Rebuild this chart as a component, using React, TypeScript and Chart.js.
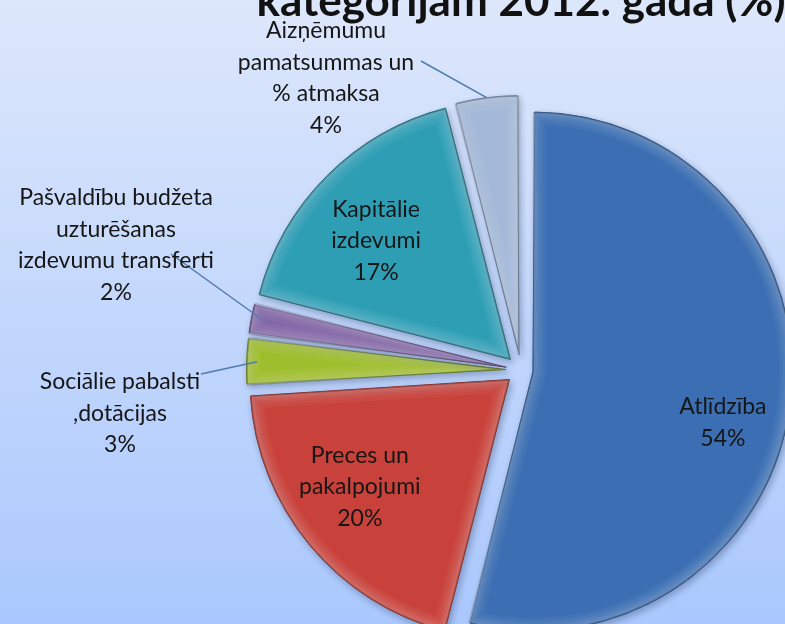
import React, { useEffect, useRef } from "react";
import { Chart, registerables } from "chart.js";

Chart.register(...registerables);

// ---------- data ----------
const TITLE_LINE = "kategorijām 2012. gadā (%)";
const categories: string[][] = [
  ["Atlīdzība"],
  ["Preces un", "pakalpojumi"],
  ["Sociālie pabalsti", ",dotācijas"],
  ["Pašvaldību budžeta", "uzturēšanas", "izdevumu transferti"],
  ["Kapitālie", "izdevumi"],
  ["Aizņēmumu", "pamatsummas un", "% atmaksa"],
];
const values: number[] = [54, 20, 3, 2, 17, 4];

// ---------- styles ----------
const sliceColors = ["#3b6eb2", "#c8413a", "#9fbe2e", "#8467a8", "#2e9eb5", "#a4b8d9"];
const sliceBorders = ["#24518c", "#8e2620", "#6a8419", "#5a4278", "#1c6f80", "#6f86ab"];
const explodePx = [12, 15, 15, 15, 15, 15]; // translation of each slice
const RADIUS = 259.5;
const FONT = "Lato, 'Open Sans', sans-serif";
const LABEL_SIZE = 23;
const LINE_H = 31.5;

// inside labels: polar position (degrees clockwise from top, fraction of radius)
const insidePlacement: Record<number, { angle: number; r: number }> = {
  0: { angle: 105, r: 0.758 },
  1: { angle: 234.3, r: 0.71 },
  4: { angle: 311.4, r: 0.69 },
};
// outside labels: text block center of first line, leader line start, leader end radius fraction
const outsidePlacement: Record<number, { x: number; y: number; fx: number; fy: number; r: number }> = {
  5: { x: 326, y: 31, fx: 421, fy: 61, r: 1.0 },
  3: { x: 116, y: 198, fx: 171, fy: 254, r: 0.95 },
  2: { x: 120, y: 382, fx: 201, fy: 374, r: 0.96 },
};

function arcGeom(arc: any) {
  const off = (arc.options.offset || 0) / 4;
  const half = (arc.startAngle + arc.endAngle) / 2;
  const fix = 1 - Math.sin(Math.min(Math.PI, arc.endAngle - arc.startAngle));
  const cx = arc.x + Math.cos(half) * off;
  const cy = arc.y + Math.sin(half) * off;
  const r = arc.outerRadius + off * fix;
  return { cx, cy, r, half };
}

function pathArc(ctx: CanvasRenderingContext2D, arc: any) {
  const g = arcGeom(arc);
  ctx.beginPath();
  ctx.moveTo(g.cx, g.cy);
  ctx.arc(g.cx, g.cy, g.r, arc.startAngle, arc.endAngle);
  ctx.closePath();
  return g;
}

const piePlugin = {
  id: "piePlugin",
  beforeDraw(chart: any) {
    const ctx = chart.ctx as CanvasRenderingContext2D;
    const g = ctx.createLinearGradient(0, 0, 0, chart.height);
    g.addColorStop(0, "#dde7fb");
    g.addColorStop(1, "#aac8fd");
    ctx.save();
    ctx.fillStyle = g;
    ctx.fillRect(0, 0, chart.width, chart.height);
    // title (only its last line is visible)
    ctx.fillStyle = "#111111";
    ctx.font = `bold 44px ${FONT}`;
    ctx.textAlign = "center";
    ctx.textBaseline = "alphabetic";
    ctx.fillText(TITLE_LINE, 521, 16);
    ctx.restore();
  },
  beforeDatasetsDraw(chart: any) {
    const meta = chart.getDatasetMeta(0);
    meta.data.forEach((arc: any) => {
      const off = (arc.options.offset || 0) / 4;
      const fix = 1 - Math.sin(Math.min(Math.PI, arc.endAngle - arc.startAngle));
      arc.outerRadius = RADIUS - off * fix;
    });
    const ctx = chart.ctx as CanvasRenderingContext2D;
    ctx.save();
    ctx.shadowColor = "rgba(20,40,80,0.30)";
    ctx.shadowBlur = 6;
    ctx.shadowOffsetX = 2;
    ctx.shadowOffsetY = 3;
  },
  afterDatasetsDraw(chart: any) {
    const ctx = chart.ctx as CanvasRenderingContext2D;
    ctx.restore();
    const meta = chart.getDatasetMeta(0);
    // soft bevel
    meta.data.forEach((arc: any) => {
      ctx.save();
      pathArc(ctx, arc);
      ctx.clip();
      ctx.lineJoin = "round";
      [26, 20, 15, 11, 8, 5].forEach((w) => {
        ctx.strokeStyle = "rgba(255,255,255,0.045)";
        ctx.lineWidth = w;
        ctx.stroke();
      });
      ctx.strokeStyle = "rgba(0,0,0,0.22)";
      ctx.lineWidth = 2.5;
      ctx.stroke();
      ctx.restore();
    });
    // labels
    ctx.save();
    ctx.font = `${LABEL_SIZE}px ${FONT}`;
    ctx.textAlign = "center";
    ctx.textBaseline = "middle";
    ctx.fillStyle = "#161616";
    meta.data.forEach((arc: any, i: number) => {
      const lines = [...categories[i], `${values[i]}%`];
      const g = arcGeom(arc);
      if (insidePlacement[i]) {
        const p = insidePlacement[i];
        const a = ((p.angle - 90) * Math.PI) / 180;
        const x = g.cx + Math.cos(a) * g.r * p.r;
        const y = g.cy + Math.sin(a) * g.r * p.r;
        const y0 = y - ((lines.length - 1) * LINE_H) / 2;
        lines.forEach((t, k) => ctx.fillText(t, x, y0 + k * LINE_H));
      } else if (outsidePlacement[i]) {
        const p = outsidePlacement[i];
        const ex = g.cx + Math.cos(g.half) * g.r * p.r;
        const ey = g.cy + Math.sin(g.half) * g.r * p.r;
        ctx.strokeStyle = "#4f7bb0";
        ctx.lineWidth = 1.5;
        ctx.beginPath();
        ctx.moveTo(p.fx, p.fy);
        ctx.lineTo(ex, ey);
        ctx.stroke();
        lines.forEach((t, k) => ctx.fillText(t, p.x, p.y + k * LINE_H));
      }
    });
    ctx.restore();
  },
};

export default function App() {
  const ref = useRef<HTMLCanvasElement | null>(null);
  useEffect(() => {
    if (!ref.current) return;
    const chart = new Chart(ref.current, {
      type: "pie",
      data: {
        labels: categories.map((c) => c.join(" ")),
        datasets: [
          {
            data: values,
            backgroundColor: sliceColors,
            borderColor: sliceBorders,
            borderWidth: 1,
            offset: explodePx.map((d) => d * 4),
            hoverOffset: 0,
            clip: false,
          } as any,
        ],
      },
      options: {
        responsive: false,
        animation: false,
        devicePixelRatio: 1,
        events: [],
        radius: RADIUS,
        layout: { padding: { left: 257, top: 116, right: 0, bottom: 0 } },
        plugins: { legend: { display: false }, tooltip: { enabled: false }, title: { display: false } },
      } as any,
      plugins: [piePlugin],
    });
    return () => chart.destroy();
  }, []);
  return (
    <div style={{ position: "fixed", left: 0, top: 0, width: 785, height: 624, overflow: "hidden" }}>
      <canvas ref={ref} width={785} height={624} style={{ display: "block" }} />
    </div>
  );
}
